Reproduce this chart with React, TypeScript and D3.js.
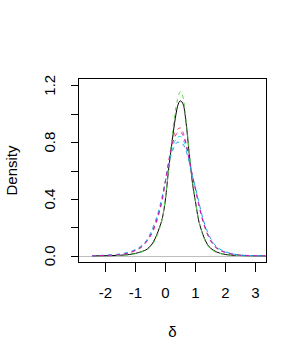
import React, { useEffect, useRef } from 'react'
import * as d3 from 'd3'

// grid of delta values shared by all curves
const deltaGrid = [-2.45, -2.2, -1.8, -1.5, -1.2, -1.0, -0.8, -0.6, -0.4, -0.2, -0.1, 0, 0.1, 0.2, 0.3, 0.4, 0.5, 0.6, 0.7, 0.8, 0.9, 1.0, 1.1, 1.2, 1.4, 1.6, 1.8, 2.0, 2.3, 2.6, 3.37]

const densBlack = [0, 0.001, 0.002, 0.005, 0.01, 0.018, 0.03, 0.05, 0.1, 0.2, 0.27, 0.4, 0.6, 0.77, 0.93, 1.05, 1.09, 1.06, 0.91, 0.7, 0.51, 0.38, 0.255, 0.18, 0.08, 0.04, 0.02, 0.01, 0.004, 0.002, 0]
const densRed = [0, 0.002, 0.005, 0.01, 0.022, 0.038, 0.06, 0.11, 0.18, 0.31, 0.4, 0.53, 0.66, 0.78, 0.86, 0.89, 0.9, 0.86, 0.78, 0.66, 0.56, 0.47, 0.37, 0.28, 0.15, 0.075, 0.04, 0.025, 0.008, 0.003, 0]
const densGreen = [0, 0.001, 0.002, 0.004, 0.008, 0.015, 0.027, 0.045, 0.09, 0.19, 0.27, 0.41, 0.6, 0.8, 0.98, 1.1, 1.155, 1.1, 0.93, 0.72, 0.53, 0.38, 0.26, 0.175, 0.075, 0.035, 0.018, 0.009, 0.004, 0.001, 0]
const densBlue = [0, 0.003, 0.007, 0.014, 0.028, 0.045, 0.072, 0.12, 0.21, 0.34, 0.43, 0.53, 0.63, 0.72, 0.77, 0.8, 0.795, 0.78, 0.73, 0.65, 0.56, 0.48, 0.39, 0.3, 0.17, 0.09, 0.05, 0.03, 0.012, 0.005, 0]
const densCyan = [0, 0.002, 0.006, 0.012, 0.025, 0.042, 0.068, 0.115, 0.2, 0.33, 0.42, 0.53, 0.64, 0.74, 0.8, 0.835, 0.84, 0.81, 0.75, 0.66, 0.56, 0.47, 0.38, 0.29, 0.16, 0.085, 0.045, 0.026, 0.011, 0.004, 0]
const densMagenta = [0, 0.002, 0.005, 0.01, 0.022, 0.04, 0.065, 0.11, 0.19, 0.32, 0.41, 0.53, 0.65, 0.76, 0.83, 0.865, 0.87, 0.84, 0.77, 0.67, 0.56, 0.47, 0.37, 0.285, 0.155, 0.08, 0.042, 0.024, 0.01, 0.004, 0]

const xTicks = [-2, -1, 0, 1, 2, 3]
const yTicks = [0, 0.2, 0.4, 0.6, 0.8, 1.0, 1.2]
const yLabels = ['0.0', '0.4', '0.8', '1.2']

export default function App() {
  const ref = useRef<SVGSVGElement>(null)

  useEffect(() => {
    const svg = d3.select(ref.current)
    svg.selectAll('*').remove()
    const font = 'Liberation Sans, Arial, sans-serif'
    const fs = 15

    const x = d3.scaleLinear().domain([-2.9, 3.367]).range([78.5, 266.5])
    const y = d3.scaleLinear().domain([-0.0463, 1.2474]).range([262.5, 78.5])

    const series = [
      { v: densBlack, col: '#000000', dash: null },
      { v: densRed, col: '#DF536B', dash: '4,4' },
      { v: densGreen, col: '#61D04F', dash: '4,4' },
      { v: densBlue, col: '#2297E6', dash: '4,4' },
      { v: densCyan, col: '#28E2E5', dash: '4,4' },
      { v: densMagenta, col: '#CD0BBC', dash: '4,4' },
    ]

    // grey zero line
    svg.append('line')
      .attr('x1', 78.5).attr('x2', 266.5)
      .attr('y1', Math.round(y(0)) + 0.5).attr('y2', Math.round(y(0)) + 0.5)
      .attr('stroke', '#bebebe')

    const line = d3.line<number>()
      .x((d, i) => x(deltaGrid[i]))
      .y(d => y(d))
      .curve(d3.curveMonotoneX)

    const g = svg.append('g')
    series.forEach(s => {
      g.append('path')
        .attr('d', line(s.v))
        .attr('fill', 'none')
        .attr('stroke', s.col)
        .attr('stroke-width', 1)
        .attr('stroke-dasharray', s.dash)
    })

    svg.append('rect')
      .attr('x', 78.5).attr('y', 78.5)
      .attr('width', 188).attr('height', 184)
      .attr('fill', 'none').attr('stroke', 'black')

    // y axis
    yTicks.forEach(t => {
      const yy = Math.round(y(t)) + 0.5
      svg.append('line').attr('x1', 71).attr('x2', 78.5).attr('y1', yy).attr('y2', yy).attr('stroke', 'black')
    })
    yLabels.forEach(l => {
      svg.append('text')
        .attr('transform', `translate(55,${y(+l)}) rotate(-90)`)
        .attr('text-anchor', 'middle')
        .attr('font-family', font).attr('font-size', fs)
        .text(l)
    })

    // x axis
    xTicks.forEach(t => {
      const xx = Math.round(x(t)) + 0.5
      svg.append('line').attr('x1', xx).attr('x2', xx).attr('y1', 262.5).attr('y2', 272).attr('stroke', 'black')
      svg.append('text')
        .attr('x', x(t)).attr('y', 298)
        .attr('text-anchor', 'middle')
        .attr('font-family', font).attr('font-size', fs)
        .text(t)
    })

    svg.append('text')
      .attr('x', 172.5).attr('y', 337)
      .attr('text-anchor', 'middle')
      .attr('font-family', font).attr('font-size', fs)
      .text('δ')

    svg.append('text')
      .attr('transform', 'translate(17,170.5) rotate(-90)')
      .attr('text-anchor', 'middle')
      .attr('font-family', font).attr('font-size', fs)
      .text('Density')
  }, [])

  return (
    <svg ref={ref} width={307} height={361}
      style={{ position: 'absolute', left: 0, top: 0, background: 'white' }} />
  )
}
